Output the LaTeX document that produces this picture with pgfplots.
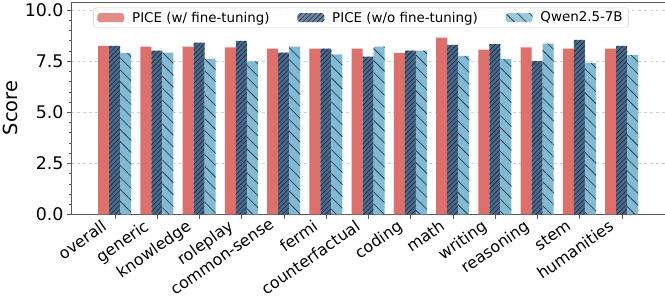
\documentclass[border=0pt]{standalone}
\usepackage{fontspec}
\setmainfont{DejaVu Sans}
\usepackage{pgfplots}
\pgfplotsset{compat=1.18}
\usetikzlibrary{patterns.meta}
\definecolor{cred}{HTML}{DD706B}
\definecolor{cdark}{HTML}{466990}
\definecolor{clight}{HTML}{80BAD4}
\pgfplotsset{mylegend/.style={legend image code/.code={\draw[##1,draw=none] (0pt,-4.5pt) rectangle (27pt,4.5pt);}}}
\begin{document}
\begin{tikzpicture}
\begin{axis}[
  scale only axis, width=597pt, height=214pt,
  ybar=0pt, bar width=0.26,
  every axis plot post/.append style={mylegend},
  xmin=-1.02, xmax=13.02, ymin=0, ymax=10.4,
  xtick={0,...,12},
  xticklabels={overall,generic,knowledge,roleplay,common-sense,fermi,counterfactual,coding,math,writing,reasoning,stem,humanities},
  x tick label style={xshift=-14pt, rotate=35, anchor=north east, font=\fontsize{16}{16}\selectfont, inner sep=0pt},
  ytick={0,2.5,5,7.5,10}, minor y tick num=4,
  yticklabel style={/pgf/number format/fixed, /pgf/number format/fixed zerofill, /pgf/number format/precision=1, /pgf/number format/assume math mode=true, font=\fontsize{17.5}{17.5}\selectfont},
  ylabel={Score}, ylabel style={font=\fontsize{19.5}{19.5}\selectfont},
  ymajorgrids, grid style={dashed, black!18},
  tick align=outside, xtick pos=bottom, ytick pos=left,
  major tick length=4.5pt, minor tick length=2.5pt,
  axis line style={black!65}, tick style={black!65},
  legend columns=3,
  legend style={at={(0.488,0.972)}, anchor=north, font=\fontsize{13.5}{13.5}\selectfont,
    draw=black!20, rounded corners=2pt, fill=white, fill opacity=0.8, text opacity=1,
    inner xsep=4pt, inner ysep=2pt,
    /tikz/every odd column/.append style={column sep=6pt},
    /tikz/every even column/.append style={column sep=26pt}},
  legend cell align=left,
]
\addplot[fill=cred, draw=none] coordinates {(0,8.24) (1,8.20) (2,8.20) (3,8.17) (4,8.11) (5,8.11) (6,8.11) (7,7.88) (8,8.64) (9,8.06) (10,8.17) (11,8.11) (12,8.11)};
\addplot[fill=cdark, draw=none, postaction={pattern={Lines[angle=45,distance=3.4pt,line width=0.6pt]}, pattern color=black!85}] coordinates {(0,8.24) (1,8.01) (2,8.40) (3,8.48) (4,7.91) (5,8.11) (6,7.72) (7,8.01) (8,8.29) (9,8.33) (10,7.49) (11,8.53) (12,8.24)};
\addplot[fill=clight, draw=none, postaction={pattern={Lines[angle=-45,distance=8.5pt,line width=0.6pt]}, pattern color=black!85}] coordinates {(0,7.88) (1,7.91) (2,7.60) (3,7.48) (4,8.20) (5,7.82) (6,8.20) (7,8.01) (8,7.75) (9,7.60) (10,8.35) (11,7.41) (12,7.80)};
\legend{PICE (w/ fine-tuning), PICE (w/o fine-tuning), Qwen2.5-7B}
\end{axis}
\end{tikzpicture}
\end{document}
